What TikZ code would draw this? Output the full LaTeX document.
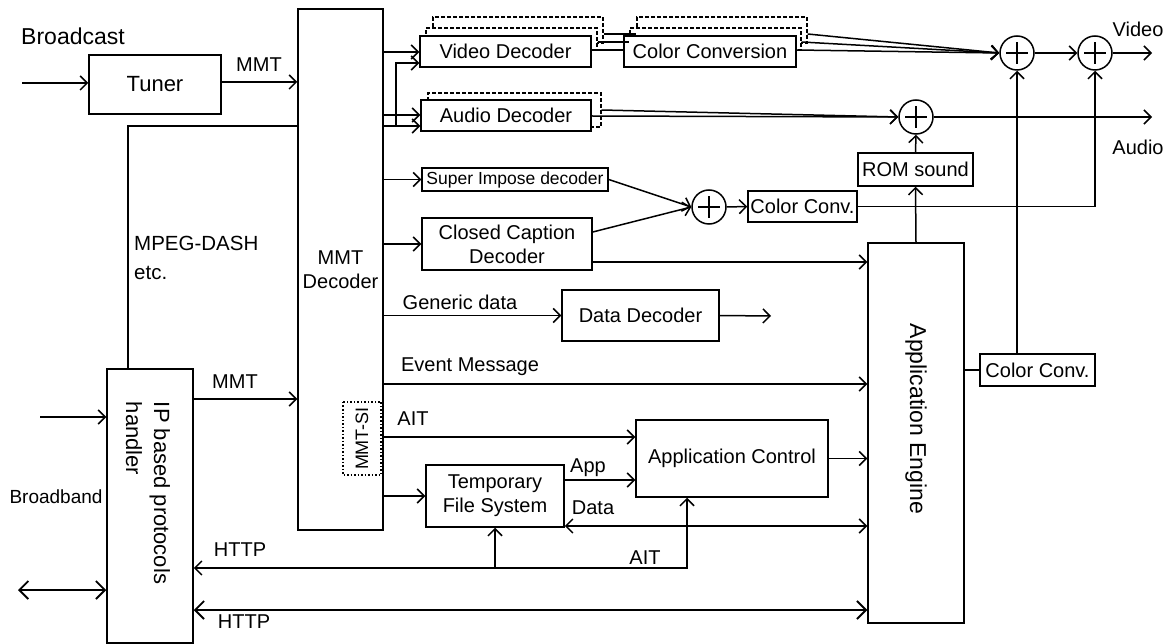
\documentclass[tikz,border=0pt]{standalone}
\usepackage{fontspec}
\setmainfont{Liberation Sans}
\usetikzlibrary{arrows.meta,positioning,shapes,calc}

\begin{document}
\begin{tikzpicture}[
  x=1pt,y=-1pt,
  font=\fontsize{20}{24}\selectfont,
  blk/.style={draw,line width=1.5pt,fill=white,inner sep=0pt,align=center},
  ghost/.style={draw,fill=white,line width=1.3pt,dash pattern=on 4pt off 2pt,inner sep=0pt},
  sum/.style={draw,circle,line width=1.5pt,fill=white,minimum size=34pt,inner sep=0pt,
    path picture={\draw[line width=2.8pt]
      ([xshift=-11pt]path picture bounding box.center) -- ([xshift=11pt]path picture bounding box.center)
      ([yshift=-11pt]path picture bounding box.center) -- ([yshift=11pt]path picture bounding box.center);}},
  lbl/.style={inner sep=0pt,align=left},
  wire/.style={line width=1.5pt},
  arr/.style={-{Straight Barb[length=7pt,width=14pt]},line width=1.5pt},
  darr/.style={{Straight Barb[length=7pt,width=14pt]}-{Straight Barb[length=7pt,width=14pt]},line width=1.5pt},
  bigdarr/.style={{Straight Barb[length=9pt,width=18pt]}-{Straight Barb[length=9pt,width=18pt]},line width=1.8pt}]

  \useasboundingbox (0,0) rectangle (1168,644);

  % Eingang Rundfunk
  \node[lbl,font=\fontsize{23}{26}\selectfont] (bcast) at (73,36) {Broadcast};
  \coordinate (bcin) at (22,83);
  \node[blk,minimum width=132pt,minimum height=59pt,font=\fontsize{22}{26}\selectfont] (tuner) at (155,84.5) {Tuner};
  \node[blk,minimum width=85pt,minimum height=521pt] (mmtdec) at (340.5,269.5) {MMT\\Decoder};
  \node[blk,dotted,line width=1.2pt,rotate=90,minimum width=73pt,minimum height=38pt,
    font=\fontsize{18}{20}\selectfont] (mmtsi) at (362,438.5) {MMT-SI};

  % Eingang Breitband
  \node[blk,minimum width=86pt,minimum height=274pt] (iph) at (150,506) {};
  \node[lbl,rotate=-90,font=\fontsize{22}{28}\selectfont] (iphlbl) at (148,493) {IP based protocols\\handler};
  \node[lbl,font=\fontsize{19}{22}\selectfont] (bband) at (56,497) {Broadband};
  \coordinate (bbin) at (40,417);
  \coordinate (bbio) at (18,590);
  \node[lbl,anchor=north west,font=\fontsize{20.5}{29}\selectfont] (dash) at (134,236) {MPEG-DASH\\etc.};

  % Video / Audio
  \node[ghost,minimum width=170pt,minimum height=26pt] (vdec2) at (518,30) {};
  \node[ghost,minimum width=171pt,minimum height=22pt] (vdec1) at (511.5,39) {};
  \node[blk,minimum width=171pt,minimum height=31pt] (vdec) at (505.5,51.5) {Video Decoder};
  \node[ghost,minimum width=170pt,minimum height=26pt] (ccv2) at (722,30) {};
  \node[ghost,minimum width=171pt,minimum height=22pt] (ccv1) at (715.5,39) {};
  \node[blk,minimum width=172pt,minimum height=31pt] (ccv) at (710,51.5) {Color Conversion};
  \node[ghost,minimum width=173pt,minimum height=34pt] (adec1) at (514.5,110) {};
  \node[blk,minimum width=170pt,minimum height=31pt] (adec) at (506,115.5) {Audio Decoder};
  \node[sum] (sumvid1) at (1017,53) {};
  \node[sum] (sumvid2) at (1095,53) {};
  \node[sum] (sumaud) at (916,117) {};
  \coordinate (vidout) at (1152,53);
  \coordinate (audout) at (1152,117);
  \node[lbl] (vidlbl) at (1138,29) {Video};
  \node[lbl] (audlbl) at (1138,147) {Audio};

  % Untertitel, Daten
  \node[blk,minimum width=186pt,minimum height=23pt,font=\fontsize{17.5}{21}\selectfont] (sid) at (515,179.5) {Super Impose decoder};
  \node[blk,minimum width=170pt,minimum height=52pt] (ccd) at (507,244) {Closed Caption\\Decoder};
  \node[sum] (sumsub) at (709,207) {};
  \node[blk,minimum width=109pt,minimum height=31pt] (ccm) at (802.5,206.5) {Color Conv.};
  \node[blk,minimum width=157pt,minimum height=51pt] (dd) at (640.5,315.5) {Data Decoder};
  \coordinate (ddout) at (771,316);
  \node[blk,minimum width=115pt,minimum height=33pt] (rom) at (915.5,169.5) {ROM sound};

  % Anwendung
  \node[blk,minimum width=96pt,minimum height=380pt] (ae) at (916,433) {};
  \node[rotate=-90,inner sep=0pt,font=\fontsize{23}{26}\selectfont] (aelbl) at (916,419) {Application Engine};
  \node[blk,minimum width=115pt,minimum height=32pt] (ccr) at (1037.5,370) {Color Conv.};
  \node[blk,minimum width=192pt,minimum height=77pt] (ac) at (732,458.5) {Application Control};
  \node[blk,minimum width=138pt,minimum height=62pt] (tfs) at (495,496) {Temporary\\File System};

  % Beschriftungen
  \node[lbl] (mmtlbl1) at (259,65) {MMT};
  \node[lbl] (mmtlbl2) at (235,382) {MMT};
  \node[lbl] (genlbl) at (460,302) {Generic data};
  \node[lbl] (evlbl) at (470,367) {Event Message};
  \node[lbl] (aitlbl1) at (413,419) {AIT};
  \node[lbl] (applbl) at (588,468) {App};
  \node[lbl] (datalbl) at (593,508) {Data};
  \node[lbl] (aitlbl2) at (645,558) {AIT};
  \node[lbl] (httplbl1) at (240,550) {HTTP};
  \node[lbl] (httplbl2) at (244,622) {HTTP};

  % Rundfunk
  \draw[arr] (bcin) -- (tuner.west |- bcin);
  \draw[arr] (tuner.east |- 0,82) -- (mmtdec.west |- 0,82);
  \draw[arr] (mmtdec.east |- 0,52) -- (vdec.west |- 0,52);
  \draw[arr] (mmtdec.east |- 0,115) -- (adec.west |- 0,115);
  \draw[arr] (mmtdec.east |- 0,126) -- (adec.west |- 0,126);
  \coordinate (split) at (396,126);
  \draw[arr] (split) |- (vdec.west |- 0,63);

  % Video
  \draw[wire] (vdec2.east |- 0,34) -- (ccv2.west |- 0,34);
  \draw[wire] (vdec1.east |- 0,42) -- (ccv1.west |- 0,42);
  \draw[wire] (vdec.east |- 0,50) -- (ccv.west |- 0,50);
  \draw[arr] (ccv2.east |- 0,34) -- (sumvid1.west);
  \draw[arr] (ccv1.east |- 0,42) -- (sumvid1.west);
  \draw[arr] (ccv.east |- 0,50) -- (sumvid1.west);
  \draw[arr] (sumvid1.east) -- (sumvid2.west);
  \draw[arr] (sumvid2.east) -- (vidout);

  % Audio
  \draw[arr] (adec1.east |- 0,110) -- (sumaud.west);
  \draw[arr] (adec.east |- 0,116) -- (sumaud.west);
  \draw[arr] (sumaud.east) -- (audout);
  \draw[arr] (rom.north) -- (sumaud.south);
  \draw[arr] (ae.north) -- (rom.south);

  % Untertitel
  \draw[arr] (mmtdec.east |- sid) -- (sid.west);
  \draw[arr] (mmtdec.east |- ccd) -- (ccd.west);
  \draw[arr] (sid.east) -- (sumsub.west);
  \draw[arr] (ccd.east |- 0,232) -- (sumsub.west);
  \draw[arr] (sumsub.east) -- (ccm.west);
  \draw[arr] (ccm.east) -| (sumvid2.south);
  \draw[arr] (ccd.east |- 0,262) -- (ae.west |- 0,262);

  % Daten
  \draw[arr] (mmtdec.east |- dd) -- (dd.west);
  \draw[arr] (dd.east) -- (ddout);
  \draw[arr] (mmtdec.east |- 0,384) -- (ae.west |- 0,384);
  \draw[wire] (ae.east |- ccr) -- (ccr.west);
  \draw[arr] (ccr.north -| sumvid1) -- (sumvid1.south);

  % Anwendung
  \draw[arr] (mmtdec.east |- 0,437) -- (ac.west |- 0,437);
  \draw[arr] (mmtdec.east |- tfs) -- (tfs.west);
  \draw[arr] (tfs.east |- 0,480) -- (ac.west |- 0,480);
  \draw[darr] (tfs.east |- 0,526) -- (ae.west |- 0,526);
  \draw[arr] (ac.east) -- (ae.west |- ac);

  % Breitband
  \draw[wire] (iph.north -| 128,0) |- (mmtdec.west |- 0,126);
  \draw[arr] (iph.east |- 0,399) -- (mmtdec.west |- 0,399);
  \draw[arr] (bbin) -- (iph.west |- bbin);
  \draw[bigdarr] (bbio) -- (iph.west |- bbio);
  \draw[darr] (iph.east |- 0,568) -| (ac.south -| 687,0);
  \draw[arr] (tfs.south |- 0,568) -- (tfs.south);
  \draw[bigdarr] (iph.east |- 0,610) -- (ae.west |- 0,610);

\end{tikzpicture}
\end{document}
